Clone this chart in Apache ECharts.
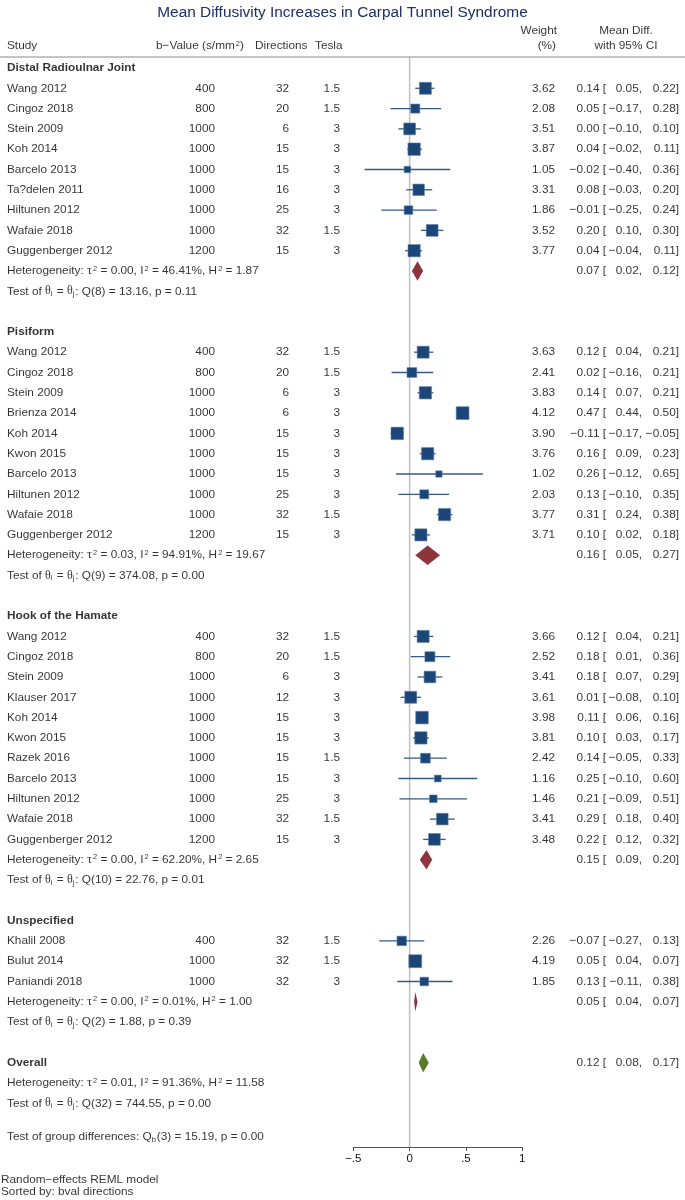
<!DOCTYPE html>
<html>
<head>
<meta charset="utf-8">
<script src="https://cdn.jsdelivr.net/npm/echarts@6/dist/echarts.min.js"></script>
<style>html,body{margin:0;padding:0;background:#fff}#c{width:685px;height:1200px}</style>
</head>
<body>
<div id="c"></div>
<script>
// ---------------- DATA ----------------
const chartTitle = "Mean Diffusivity Increases in Carpal Tunnel Syndrome";
const groupNames = ["Distal Radioulnar Joint", "Pisiform", "Hook of the Hamate", "Unspecified"];

const studyNames = [
  "Wang 2012","Cingoz 2018","Stein 2009","Koh 2014","Barcelo 2013","Ta?delen 2011","Hiltunen 2012","Wafaie 2018","Guggenberger 2012",
  "Wang 2012","Cingoz 2018","Stein 2009","Brienza 2014","Koh 2014","Kwon 2015","Barcelo 2013","Hiltunen 2012","Wafaie 2018","Guggenberger 2012",
  "Wang 2012","Cingoz 2018","Stein 2009","Klauser 2017","Koh 2014","Kwon 2015","Razek 2016","Barcelo 2013","Hiltunen 2012","Wafaie 2018","Guggenberger 2012",
  "Khalil 2008","Bulut 2014","Paniandi 2018"
];
const studyGroup = [
  0,0,0,0,0,0,0,0,0,
  1,1,1,1,1,1,1,1,1,1,
  2,2,2,2,2,2,2,2,2,2,2,
  3,3,3
];
const bValues = [
  400,800,1000,1000,1000,1000,1000,1000,1200,
  400,800,1000,1000,1000,1000,1000,1000,1000,1200,
  400,800,1000,1000,1000,1000,1000,1000,1000,1000,1200,
  400,1000,1000
];
const directions = [
  32,20,6,15,15,16,25,32,15,
  32,20,6,6,15,15,15,25,32,15,
  32,20,6,12,15,15,15,15,25,32,15,
  32,32,32
];
const teslaValues = [
  "1.5","1.5","3","3","3","3","3","1.5","3",
  "1.5","1.5","3","3","3","3","3","3","1.5","3",
  "1.5","1.5","3","3","3","3","1.5","3","3","1.5","3",
  "1.5","1.5","3"
];
const weights = [
  3.62,2.08,3.51,3.87,1.05,3.31,1.86,3.52,3.77,
  3.63,2.41,3.83,4.12,3.90,3.76,1.02,2.03,3.77,3.71,
  3.66,2.52,3.41,3.61,3.98,3.81,2.42,1.16,1.46,3.41,3.48,
  2.26,4.19,1.85
];
const estimates = [
  0.14,0.05,0.00,0.04,-0.02,0.08,-0.01,0.20,0.04,
  0.12,0.02,0.14,0.47,-0.11,0.16,0.26,0.13,0.31,0.10,
  0.12,0.18,0.18,0.01,0.11,0.10,0.14,0.25,0.21,0.29,0.22,
  -0.07,0.05,0.13
];
const lowers = [
  0.05,-0.17,-0.10,-0.02,-0.40,-0.03,-0.25,0.10,-0.04,
  0.04,-0.16,0.07,0.44,-0.17,0.09,-0.12,-0.10,0.24,0.02,
  0.04,0.01,0.07,-0.08,0.06,0.03,-0.05,-0.10,-0.09,0.18,0.12,
  -0.27,0.04,-0.11
];
const uppers = [
  0.22,0.28,0.10,0.11,0.36,0.20,0.24,0.30,0.11,
  0.21,0.21,0.21,0.50,-0.05,0.23,0.65,0.35,0.38,0.18,
  0.21,0.36,0.29,0.10,0.16,0.17,0.33,0.60,0.51,0.40,0.32,
  0.13,0.07,0.38
];

const groupEst = [0.07, 0.16, 0.15, 0.05];
const groupLo  = [0.02, 0.05, 0.09, 0.04];
const groupHi  = [0.12, 0.27, 0.20, 0.07];
const groupTau2 = ["0.00","0.03","0.00","0.00"];
const groupI2   = ["46.41","94.91","62.20","0.01"];
const groupH2   = ["1.87","19.67","2.65","1.00"];
const groupQdf  = [8, 9, 10, 2];
const groupQ    = ["13.16","374.08","22.76","1.88"];
const groupP    = ["0.11","0.00","0.01","0.39"];

const overallEst = 0.12, overallLo = 0.08, overallHi = 0.17;
const overallTau2 = "0.01", overallI2 = "91.36", overallH2 = "11.58";
const overallQdf = 32, overallQ = "744.55", overallP = "0.00";
const groupDiffDf = 3, groupDiffQ = "15.19", groupDiffP = "0.00";

const axisTicks = [-0.5, 0, 0.5, 1];
const footerLines = ["Random\u2212effects REML model", "Sorted by: bval directions"];

// ---------------- LAYOUT ----------------
const ROW0 = 68, ROWH = 20.3;           // pixel y of row 0 and row spacing
const px2r = y => (y - ROW0) / ROWH;
const FOREST_TOP = 57, AXIS_Y = 1147;
const FONT = "'Liberation Sans', Arial, Helvetica, sans-serif";
const SERIF = "'Liberation Serif', 'Times New Roman', serif";
const FS = 11.8;

const fmt = v => (v < 0 ? "\u2212" : "") + Math.abs(v).toFixed(2);

// rows
const studyRow = [];
const grpHeadRow = [], grpHetRow = [], grpTestRow = [];
let r = 0;
groupNames.forEach((g, gi) => {
  grpHeadRow[gi] = r++;
  studyGroup.forEach((sg, i) => { if (sg === gi) studyRow[i] = r++; });
  grpHetRow[gi] = r++;
  grpTestRow[gi] = r++;
  r++;
});
const overallRow = r, overallHetRow = r + 1, overallTestRow = r + 2;
const groupDiffRow = px2r(1137);

// text items
const tL = [], tR = [], tC = [], tB = [];
const put = (arr, x, row, t) => arr.push({ value: [x, row], t: t });

const COL = { study: 7, bval: 215, dir: 289, tesla: 340, weight: 555, est: 606, lo: 642, hi: 679 };

// headers
put(tL, 7, px2r(46), "Study");
put(tL, 156, px2r(46), "b\u2212Value (s/mm{sup|2})");
put(tL, 255, px2r(46), "Directions");
put(tL, 315, px2r(46), "Tesla");
put(tR, 557, px2r(31), "Weight");
put(tR, 556, px2r(46), "(%)");
put(tC, 626, px2r(31), "Mean Diff.");
put(tC, 626, px2r(46), "with 95% CI");

const ciText = (row, e, l, h) => {
  put(tR, COL.est, row, fmt(e) + " [");
  put(tR, COL.lo, row, fmt(l) + ",");
  put(tR, COL.hi, row, fmt(h) + "]");
};
const hetText = (tau2, i2, h2) =>
  "Heterogeneity: {g|\u03c4}{sup|2} = " + tau2 + ", I{sup|2} = " + i2 + "%, H{sup|2} = " + h2;
const testText = (df, q, p) =>
  "Test of {th|\u03b8}{sub|i} = {th|\u03b8}{sub|j}: Q(" + df + ") = " + q + ", p = " + p;

groupNames.forEach((g, gi) => {
  put(tB, COL.study, grpHeadRow[gi], g);
  put(tL, COL.study, grpHetRow[gi], hetText(groupTau2[gi], groupI2[gi], groupH2[gi]));
  put(tL, COL.study, grpTestRow[gi], testText(groupQdf[gi], groupQ[gi], groupP[gi]));
  ciText(grpHetRow[gi], groupEst[gi], groupLo[gi], groupHi[gi]);
});
studyNames.forEach((s, i) => {
  const row = studyRow[i];
  put(tL, COL.study, row, s);
  put(tR, COL.bval, row, String(bValues[i]));
  put(tR, COL.dir, row, String(directions[i]));
  put(tR, COL.tesla, row, teslaValues[i]);
  put(tR, COL.weight, row, weights[i].toFixed(2));
  ciText(row, estimates[i], lowers[i], uppers[i]);
});
put(tB, COL.study, overallRow, "Overall");
ciText(overallRow, overallEst, overallLo, overallHi);
put(tL, COL.study, overallHetRow, hetText(overallTau2, overallI2, overallH2));
put(tL, COL.study, overallTestRow, testText(overallQdf, overallQ, overallP));
put(tL, COL.study, groupDiffRow, "Test of group differences: Q{sub|b}(" + groupDiffDf + ") = " + groupDiffQ + ", p = " + groupDiffP);
put(tL, 1, px2r(1180), footerLines[0]);
put(tL, 1, px2r(1192), footerLines[1]);

// forest marks
const squareData = studyNames.map((s, i) => [estimates[i], studyRow[i], weights[i]]);
const ciData = studyNames.map((s, i) => [lowers[i], uppers[i], studyRow[i]]);
const diamondData = groupNames.map((g, gi) => [groupEst[gi], groupLo[gi], groupHi[gi], grpHetRow[gi], 0]);
diamondData.push([overallEst, overallLo, overallHi, overallRow, 1]);

const rich = {
  sup: { fontSize: 7.5, lineHeight: 6, verticalAlign: 'top', fontFamily: FONT, color: '#000', padding: [0, 0, 0, 1] },
  sub: { fontSize: 7.5, lineHeight: 7, verticalAlign: 'bottom', fontFamily: FONT, color: '#000', padding: [0, 1, 0, 0] },
  th: { fontSize: 12, lineHeight: 13, fontFamily: SERIF, color: '#000' },
  g: { fontSize: 12.5, lineHeight: 13, fontFamily: SERIF, color: '#000' }
};
const textSeries = (data, align, bold) => ({
  type: 'scatter', xAxisIndex: 1, yAxisIndex: 1, data: data,
  symbolSize: 0.1, itemStyle: { color: 'transparent' }, silent: true, clip: false, animation: false,
  label: {
    show: true, position: 'inside', align: align, verticalAlign: 'middle',
    formatter: p => p.data.t, color: '#000', fontSize: FS, lineHeight: 13,
    fontFamily: FONT, fontWeight: bold ? 'bold' : 'normal', rich: rich
  }
});

const forestYMin = px2r(FOREST_TOP), forestYMax = px2r(AXIS_Y);

const option = {
  animation: false,
  backgroundColor: '#fff',
  title: {
    text: chartTitle, left: 'center', top: 0,
    textStyle: { fontSize: 15.4, fontWeight: 'normal', color: '#1e2f66', fontFamily: FONT }
  },
  grid: [
    { left: 353.3, right: 685 - 522.3, top: FOREST_TOP, bottom: 1200 - AXIS_Y, containLabel: false },
    { left: 0, right: 0, top: 0, bottom: 0, containLabel: false }
  ],
  xAxis: [
    {
      type: 'value', gridIndex: 0, position: 'bottom',
      min: axisTicks[0], max: axisTicks[axisTicks.length - 1], interval: 0.5,
      axisLine: { show: true, onZero: false, lineStyle: { color: '#555', width: 1 } },
      axisTick: { show: true, length: 4, lineStyle: { color: '#555' } },
      splitLine: { show: false },
      axisLabel: {
        margin: 6, fontSize: 11.5, color: '#111', fontFamily: FONT,
        formatter: v => v === 0 ? '0' : (v < 0 ? '\u2212' : '') + String(Math.abs(v)).replace(/^0/, '')
      }
    },
    { type: 'value', gridIndex: 1, min: 0, max: 685, show: false }
  ],
  yAxis: [
    { type: 'value', gridIndex: 0, inverse: true, min: forestYMin, max: forestYMax, show: false },
    { type: 'value', gridIndex: 1, inverse: true, min: px2r(0), max: px2r(1200), show: false }
  ],
  series: [
    { // zero reference line
      type: 'line', xAxisIndex: 0, yAxisIndex: 0, z: 1, silent: true, symbol: 'none',
      data: [[0, forestYMin], [0, forestYMax]],
      lineStyle: { color: '#c3c3c3', width: 1.6 }
    },
    { // header rule
      type: 'line', xAxisIndex: 1, yAxisIndex: 1, z: 1, silent: true, symbol: 'none',
      data: [[0, px2r(57)], [685, px2r(57)]],
      lineStyle: { color: '#8a8a8a', width: 1 }
    },
    { // CI lines
      type: 'custom', xAxisIndex: 0, yAxisIndex: 0, z: 2, silent: true, data: ciData,
      encode: { x: [0, 1], y: 2 },
      renderItem: (params, api) => {
        const a = api.coord([api.value(0), api.value(2)]);
        const b = api.coord([api.value(1), api.value(2)]);
        return { type: 'line', shape: { x1: a[0], y1: a[1], x2: b[0], y2: b[1] },
                 style: { stroke: '#35598a', lineWidth: 1.3 } };
      }
    },
    { // study squares
      type: 'scatter', xAxisIndex: 0, yAxisIndex: 0, z: 3, silent: true, data: squareData,
      symbol: 'rect', symbolSize: d => 6.3 * Math.sqrt(d[2]),
      itemStyle: { color: '#1b4677', opacity: 1, borderColor: '#5f7fa6', borderWidth: 0.6 }
    },
    { // diamonds
      type: 'custom', xAxisIndex: 0, yAxisIndex: 0, z: 3, silent: true, data: diamondData,
      encode: { x: [0, 1, 2], y: 3 },
      renderItem: (params, api) => {
        const e = api.value(0), l = api.value(1), h = api.value(2), row = api.value(3);
        const pts = [api.coord([l, row]), api.coord([e, row - 0.48]), api.coord([h, row]), api.coord([e, row + 0.48])];
        return { type: 'polygon', shape: { points: pts },
                 style: { fill: api.value(4) === 1 ? '#5a7a2b' : '#8c363c' } };
      }
    },
    textSeries(tL, 'left', false),
    textSeries(tR, 'right', false),
    textSeries(tC, 'center', false),
    textSeries(tB, 'left', true)
  ]
};

const chart = echarts.init(document.getElementById('c'), null, { renderer: 'canvas' });
chart.setOption(option);
</script>
</body>
</html>
